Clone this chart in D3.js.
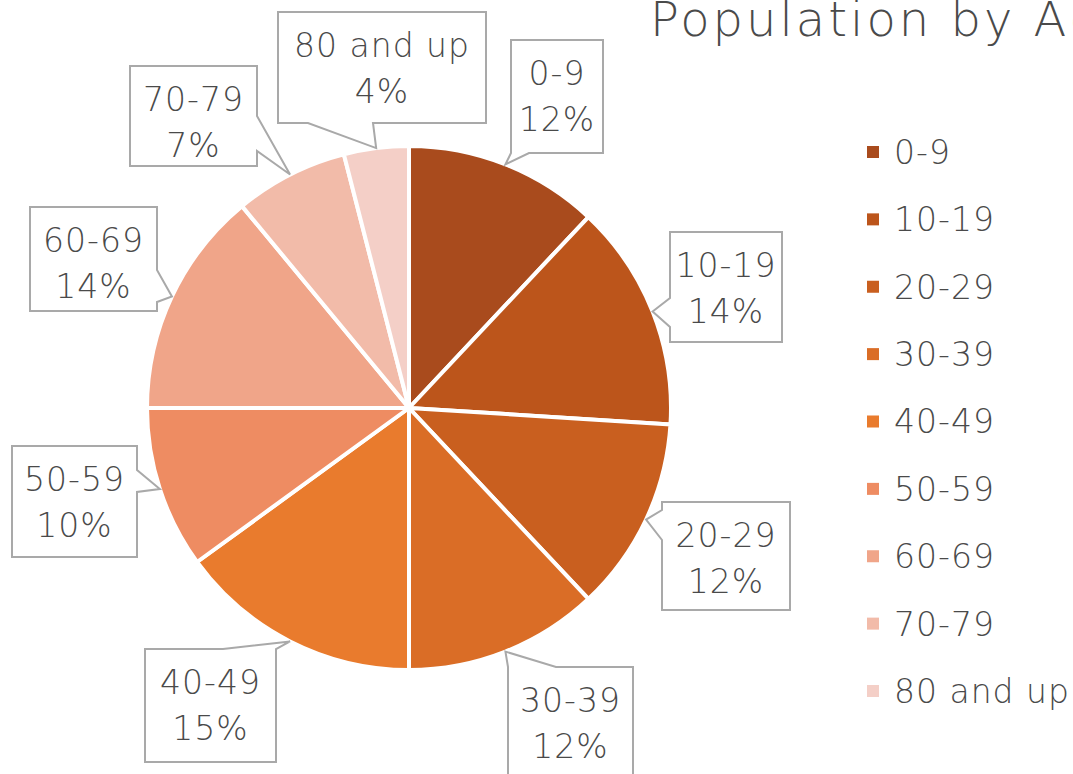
<!DOCTYPE html>
<html>
<head>
<meta charset="utf-8">
<script src="https://cdn.jsdelivr.net/npm/d3@7"></script>
<style>
  html, body { margin: 0; padding: 0; background: #ffffff; overflow: hidden; }
  svg { display: block; }
  text { font-family: "DejaVu Sans", "Open Sans", sans-serif; font-weight: 200; fill: #4a4a4a; }
</style>
</head>
<body>
<svg id="chart" width="1073" height="774"></svg>
<script>
// Age groups and their share of the population (percent)
const categories = ["0-9", "10-19", "20-29", "30-39", "40-49", "50-59", "60-69", "70-79", "80 and up"];
const shares = [12, 14, 12, 12, 15, 10, 14, 7, 4];
const sliceColors = ["#a94b1d", "#bc551b", "#c95f1f", "#da6d26", "#e97b2d", "#ee8c62", "#f0a589", "#f2bba9", "#f4cfc7"];
const titleText = "Population by Age";

// Callout boxes: rectangle, the side the pointer leaves from, and the pointer base along that side
const callouts = [
  { x: 511, y: 40,  w: 92,  h: 113, side: "bottom", b0: 0,  b1: 18 },
  { x: 670, y: 232, w: 112, h: 110, side: "left",   b0: 66, b1: 95 },
  { x: 662, y: 502, w: 128, h: 108, side: "left",   b0: 8,  b1: 38 },
  { x: 508, y: 667, w: 125, h: 120, side: "top",    b0: 0,  b1: 48 },
  { x: 145, y: 649, w: 131, h: 113, side: "top",    b0: 78, b1: 131 },
  { x: 12,  y: 446, w: 125, h: 111, side: "right",  b0: 24, b1: 46 },
  { x: 30,  y: 207, w: 127, h: 104, side: "right",  b0: 63, b1: 95 },
  { x: 130, y: 66,  w: 127, h: 100, side: "right",  b0: 50, b1: 85 },
  { x: 278, y: 12,  w: 208, h: 111, side: "bottom", b0: 30, b1: 95 }
];

const svg = d3.select("#chart");
const cx = 409, cy = 408, radius = 262;

const color = d3.scaleOrdinal().domain(categories).range(sliceColors);

const pie = d3.pie().sort(null).value(d => d.value);
const arcs = pie(categories.map((c, i) => ({ name: c, value: shares[i] })));
const arc = d3.arc().innerRadius(0).outerRadius(radius);

const pieG = svg.append("g").attr("transform", `translate(${cx},${cy})`);
pieG.selectAll("path.slice")
  .data(arcs)
  .join("path")
  .attr("class", "slice")
  .attr("d", arc)
  .attr("fill", d => color(d.data.name))
  .attr("stroke", "#ffffff")
  .attr("stroke-width", 4)
  .attr("stroke-linejoin", "round");

// Callout outline: rectangle with a wedge pointing at the slice's outer edge
function calloutPath(b, tip) {
  const { x, y, w, h, side, b0, b1 } = b;
  const p = d3.path();
  const tx = tip[0], ty = tip[1];
  p.moveTo(x, y);
  if (side === "top") { p.lineTo(x + b0, y); p.lineTo(tx, ty); p.lineTo(x + b1, y); }
  p.lineTo(x + w, y);
  if (side === "right") { p.lineTo(x + w, y + b0); p.lineTo(tx, ty); p.lineTo(x + w, y + b1); }
  p.lineTo(x + w, y + h);
  if (side === "bottom") { p.lineTo(x + b1, y + h); p.lineTo(tx, ty); p.lineTo(x + b0, y + h); }
  p.lineTo(x, y + h);
  if (side === "left") { p.lineTo(x, y + b1); p.lineTo(tx, ty); p.lineTo(x, y + b0); }
  p.closePath();
  return p.toString();
}

const labelG = svg.append("g");
arcs.forEach((a, i) => {
  const mid = (a.startAngle + a.endAngle) / 2;
  const tip = [cx + radius * Math.sin(mid), cy - radius * Math.cos(mid)];
  const b = callouts[i];
  labelG.append("path")
    .attr("d", calloutPath(b, tip))
    .attr("fill", "#ffffff")
    .attr("stroke", "#a9a9a9")
    .attr("stroke-width", 2);
  const t = labelG.append("text")
    .attr("text-anchor", "middle")
    .style("font-size", "33px")
    .style("letter-spacing", "1px");
  const mx = b.x + b.w / 2;
  t.append("tspan").attr("x", mx).attr("y", b.y + 45).text(a.data.name);
  t.append("tspan").attr("x", mx).attr("y", b.y + 91).text(Math.round(a.data.value) + "%");
});

// Title
svg.append("text")
  .attr("x", 650)
  .attr("y", 36)
  .style("font-size", "48px")
  .style("letter-spacing", "3px")
  .text(titleText);

// Legend
const legendY = d3.scalePoint().domain(categories).range([152, 691]);
const legend = svg.append("g").selectAll("g")
  .data(categories)
  .join("g")
  .attr("transform", d => `translate(867,${legendY(d)})`);
legend.append("rect")
  .attr("x", 0).attr("y", -6)
  .attr("width", 12).attr("height", 12)
  .attr("fill", d => color(d));
legend.append("text")
  .attr("x", 27).attr("y", 0)
  .attr("dy", "0.36em")
  .style("font-size", "33px")
  .style("letter-spacing", "1px")
  .text(d => d);
</script>
</body>
</html>
